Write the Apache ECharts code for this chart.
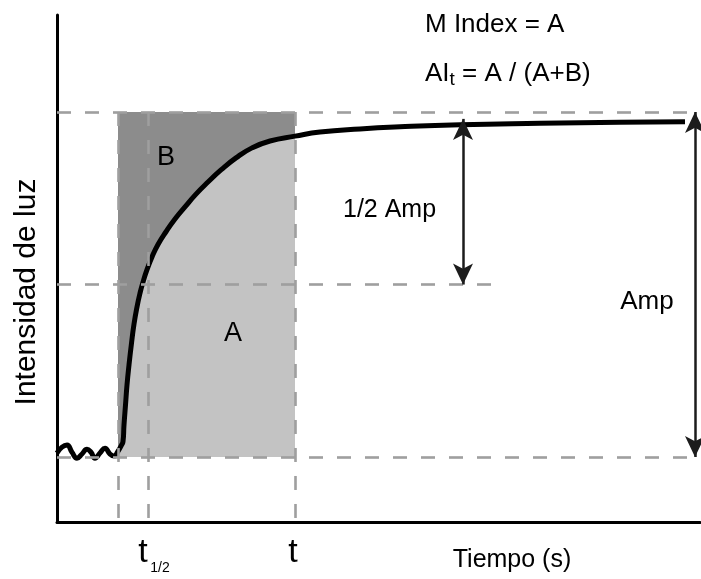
<!DOCTYPE html>
<html>
<head>
<meta charset="utf-8">
<script src="https://cdn.jsdelivr.net/npm/echarts@6/dist/echarts.min.js"></script>
<style>
  html, body { margin: 0; padding: 0; background: #fff; }
  #main { width: 701px; height: 579px; }
</style>
</head>
<body>
<div id="main"></div>
<script>
// curva de fluorescencia (tiempo en s, intensidad normalizada: 0 = base, 1 = Amp)
const curveX = [0, 0.5, 1.0, 1.5, 2.0, 2.5, 3.0, 3.4, 3.8, 4.3, 4.8, 5.3, 5.7, 6.1, 6.4, 6.6, 6.7, 6.85, 7.0, 7.2, 7.45, 7.7, 8.0, 8.3, 8.6, 9.0, 9.5, 10.1, 10.9, 11.8, 12.8, 13.9, 15.1, 16.4, 17.9, 19.5, 21.3, 23.8, 26.3, 30.3, 34.3, 40.3, 48.3, 56.3, 62.8];
const curveY = [0.012, 0.029, 0.035, 0.014, -0.003, 0.009, 0.023, 0.014, -0.003, 0.012, 0.026, 0.009, 0.003, 0.017, 0.032, 0.045, 0.093, 0.151, 0.209, 0.267, 0.330, 0.385, 0.435, 0.475, 0.507, 0.543, 0.580, 0.616, 0.653, 0.690, 0.725, 0.762, 0.797, 0.832, 0.867, 0.896, 0.916, 0.930, 0.942, 0.951, 0.957, 0.963, 0.967, 0.970, 0.972];

// tiempos marcados
const tStart = 6.1;
const tHalf = 9.1;
const tEnd = 23.8;

// niveles
const baseLevel = 0;
const halfLevel = 0.5;
const ampLevel = 1;

// flechas y guias
const halfArrowX = 40.6;
const halfArrowTop = 0.98;
const ampArrowX = 63.8;
const halfGuideEnd = 43.8;

const xMin = 0, xMax = 64.3;
const yMin = -0.188, yMax = 1.281;

const curveData = curveX.map((x, i) => [x, curveY[i]]);

const dashStyle = { color: '#9f9f9f', width: 2.6, type: [14, 14] };
const arrowStyle = { color: '#1c1c1c', width: 2.5, type: 'solid' };

const chart = echarts.init(document.getElementById('main'), null, { renderer: 'canvas' });
const font = 'Liberation Sans, Arial, Helvetica, sans-serif';

const option = {
  animation: false,
  backgroundColor: '#ffffff',
  grid: { left: 57, right: 1, top: 15, bottom: 57 },
  xAxis: {
    type: 'value', min: xMin, max: xMax,
    axisLine: { onZero: false, lineStyle: { color: '#000', width: 3 } },
    axisTick: { show: false }, axisLabel: { show: false }, splitLine: { show: false }
  },
  yAxis: {
    type: 'value', min: yMin, max: yMax,
    axisLine: { show: true, onZero: false, lineStyle: { color: '#000', width: 3 } },
    axisTick: { show: false }, axisLabel: { show: false }, splitLine: { show: false }
  },
  series: [
    {
      // areas A y B
      type: 'custom',
      z: 1,
      silent: true,
      data: [[tStart, baseLevel]],
      renderItem: function (params, api) {
        const tl = api.coord([tStart, ampLevel]);
        const br = api.coord([tEnd, baseLevel]);
        const pts = [];
        curveData.forEach(p => {
          if (p[0] >= tStart && p[0] <= tEnd) pts.push(api.coord(p));
        });
        pts.push(api.coord([tEnd, baseLevel]));
        pts.push(api.coord([tStart, baseLevel]));
        return {
          type: 'group',
          children: [
            { type: 'rect', shape: { x: tl[0], y: tl[1], width: br[0] - tl[0], height: br[1] - tl[1] }, style: { fill: '#8c8c8c' } },
            { type: 'polygon', shape: { points: pts }, style: { fill: '#c3c3c3' } }
          ]
        };
      }
    },
    {
      // lineas guia discontinuas
      type: 'line',
      z: 2,
      data: [],
      silent: true,
      markLine: {
        silent: true,
        symbol: ['none', 'none'],
        label: { show: false },
        lineStyle: dashStyle,
        data: [
          [{ coord: [xMin, ampLevel] }, { coord: [xMax, ampLevel] }],
          [{ coord: [xMin, halfLevel] }, { coord: [halfGuideEnd, halfLevel] }],
          [{ coord: [xMin, baseLevel] }, { coord: [xMax, baseLevel] }],
          [{ coord: [tStart, ampLevel] }, { coord: [tStart, yMin] }],
          [{ coord: [tHalf, ampLevel] }, { coord: [tHalf, yMin] }],
          [{ coord: [tEnd, ampLevel] }, { coord: [tEnd, yMin] }]
        ]
      }
    },
    {
      type: 'line',
      z: 4,
      data: curveData,
      smooth: 0.5,
      showSymbol: false,
      symbol: 'none',
      lineStyle: { color: '#000', width: 5 },
      silent: true
    },
    {
      // flechas
      type: 'line',
      z: 5,
      data: [],
      silent: true,
      markLine: {
        silent: true,
        symbol: ['arrow', 'arrow'],
        symbolSize: [15, 21],
        label: { show: false },
        lineStyle: arrowStyle,
        data: [
          [{ coord: [halfArrowX, halfArrowTop] }, { coord: [halfArrowX, halfLevel] }],
          [{ coord: [ampArrowX, ampLevel] }, { coord: [ampArrowX, baseLevel] }]
        ]
      }
    }
  ],
  graphic: [
    { type: 'text', x: 425, y: 25, z: 10, style: { text: 'M Index = A', font: '26px ' + font, fill: '#000', textAlign: 'left', textVerticalAlign: 'middle' } },
    {
      type: 'text', x: 425, y: 74, z: 10,
      style: {
        text: '{a|AI}{s|t}{a| = A / (A+B)}',
        textAlign: 'left', textVerticalAlign: 'middle',
        rich: {
          a: { fontSize: 26, fontFamily: font, color: '#000', lineHeight: 30, verticalAlign: 'middle' },
          s: { fontSize: 19, fontFamily: font, color: '#000', lineHeight: 19, verticalAlign: 'bottom' }
        }
      }
    },
    { type: 'text', x: 166, y: 158, z: 10, style: { text: 'B', font: '27px ' + font, fill: '#000', textAlign: 'center', textVerticalAlign: 'middle' } },
    { type: 'text', x: 233, y: 334, z: 10, style: { text: 'A', font: '27px ' + font, fill: '#000', textAlign: 'center', textVerticalAlign: 'middle' } },
    { type: 'text', x: 343, y: 210, z: 10, style: { text: '1/2 Amp', font: '25px ' + font, fill: '#000', textAlign: 'left', textVerticalAlign: 'middle' } },
    { type: 'text', x: 647, y: 302, z: 10, style: { text: 'Amp', font: '26px ' + font, fill: '#000', textAlign: 'center', textVerticalAlign: 'middle' } },
    { type: 'text', x: 27, y: 292, rotation: Math.PI / 2, z: 10, style: { text: 'Intensidad de luz', font: '30px ' + font, fill: '#000', textAlign: 'center', textVerticalAlign: 'middle' } },
    { type: 'text', x: 512, y: 560, z: 10, style: { text: 'Tiempo (s)', font: '25px ' + font, fill: '#000', textAlign: 'center', textVerticalAlign: 'middle' } },
    { type: 'text', x: 293, y: 553, z: 10, style: { text: 't', font: '34px ' + font, fill: '#000', textAlign: 'center', textVerticalAlign: 'middle' } },
    { type: 'text', x: 143, y: 553, z: 10, style: { text: 't', font: '34px ' + font, fill: '#000', textAlign: 'center', textVerticalAlign: 'middle' } },
    { type: 'text', x: 160, y: 568, z: 10, style: { text: '1/2', font: '14px ' + font, fill: '#000', textAlign: 'center', textVerticalAlign: 'middle' } }
  ]
};

chart.setOption(option);
</script>
</body>
</html>
